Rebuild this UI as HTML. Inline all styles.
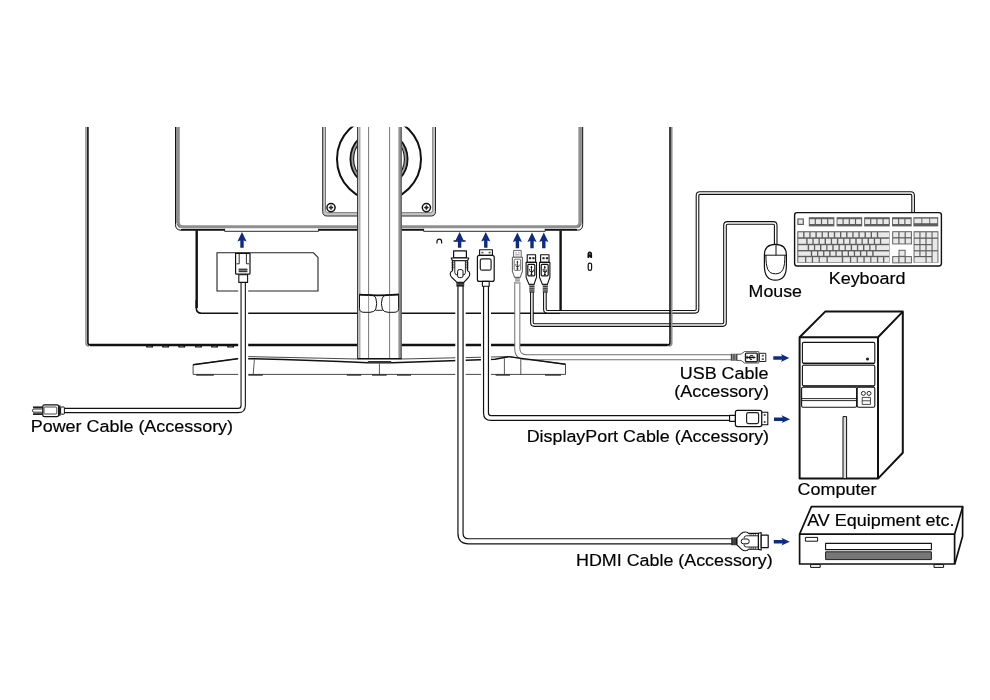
<!DOCTYPE html>
<html>
<head>
<meta charset="utf-8">
<title>Connecting your monitor</title>
<style>
html,body{margin:0;padding:0;background:#fff;}
body{width:990px;height:700px;overflow:hidden;}
svg{display:block;will-change:transform;}
text{font-family:"Liberation Sans",sans-serif;font-size:17.1px;fill:#000;stroke:#000;stroke-width:0.18px;}
.k{fill:none;stroke:#111;}
.g{fill:none;stroke:#8c8c8c;}
.w{fill:#fff;stroke:#111;}
.wg{fill:#fff;stroke:#666;}
.b{fill:#0e2b84;stroke:none;}
</style>
</head>
<body>
<svg width="990" height="700" viewBox="0 0 990 700">
<defs>
<polygon id="up" points="0,0 4.6,9.6 1.7,8.6 1.7,15.8 -1.7,15.8 -1.7,8.6 -4.6,9.6"/>
<polygon id="rt" points="0,0 -8.4,-3.9 -7.2,-1.7 -16,-1.7 -16,1.7 -7.2,1.7 -8.4,3.9"/>
<pattern id="keys" x="797.3" y="231.2" width="6.13" height="6.3" patternUnits="userSpaceOnUse">
<rect x="0" y="0" width="6.13" height="6.3" fill="#8a8a8a"/>
<rect x="1.1" y="1.1" width="4" height="4.1" fill="#fff"/>
</pattern>
</defs>
<rect x="0" y="0" width="990" height="700" fill="#fff"/>

<!-- ===== MONITOR BODY ===== -->
<g id="monitor">
<!-- outer shell -->
<path class="g" stroke-width="1.5" d="M86 127 V343 Q86 346 89 346"/>
<path class="k" stroke-width="1.6" d="M87.9 127 V342.4 Q87.9 345 90.5 345 H100"/>
<path class="k" stroke-width="2.3" d="M90 345 H667.6"/>
<!-- feet bumps under shell -->
<g fill="#111">
<rect x="146.1" y="345" width="6.9" height="2.5" rx="0.6"/><rect x="162.2" y="345" width="6.9" height="2.5" rx="0.6"/><rect x="178.3" y="345" width="6.9" height="2.5" rx="0.6"/><rect x="195" y="345" width="6.9" height="2.5" rx="0.6"/><rect x="211.1" y="345" width="6.9" height="2.5" rx="0.6"/><rect x="227.2" y="345" width="6.9" height="2.5" rx="0.6"/>
</g>
<g fill="#999"><rect x="147.5" y="346" width="4" height="0.5"/><rect x="163.6" y="346" width="4" height="0.5"/><rect x="179.70000000000002" y="346" width="4" height="0.5"/><rect x="196.4" y="346" width="4" height="0.5"/><rect x="212.5" y="346" width="4" height="0.5"/><rect x="228.6" y="346" width="4" height="0.5"/></g>
<!-- VESA plate -->
<path fill="none" stroke="#c4c4c4" stroke-width="2.6" d="M324 127 V211 Q324 214.4 327.4 214.4 H430.8 Q434.2 214.4 434.2 211 V127"/>
<path class="k" stroke-width="0.9" d="M322.7 127 V211.6 Q322.7 216 327.1 216 H431.1 Q435.5 216 435.5 211.6 V127"/>
<path fill="none" stroke="#444" stroke-width="0.7" d="M325.5 127 V210.4 Q325.5 212.6 327.7 212.6 H430.5 Q432.7 212.6 432.7 210.4 V127"/>
<!-- hub circles -->
<circle class="k" stroke-width="2" cx="379" cy="159" r="42"/>
<circle fill="none" stroke="#9a9a9a" stroke-width="2.6" cx="379" cy="159" r="27"/>
<circle class="k" stroke-width="1.8" cx="379" cy="159" r="28.6"/>
<circle class="k" stroke-width="1.1" cx="379" cy="159" r="25.4"/>
<!-- screws -->
<g class="k">
<circle cx="331" cy="207.6" r="4.1" fill="#fff" stroke-width="1.5"/><circle cx="331" cy="207.6" r="1.5" stroke-width="0.6"/>
<path stroke-width="0.9" d="M328.8 207.6 H333.2 M331 205.4 V209.8"/>
<circle cx="426.4" cy="207.6" r="4.1" fill="#fff" stroke-width="1.5"/><circle cx="426.4" cy="207.6" r="1.5" stroke-width="0.6"/>
<path stroke-width="0.9" d="M424.2 207.6 H428.6 M426.4 205.4 V209.8"/>
</g>
<!-- rear panel edge (gray inner band + dark outer line) -->
<path fill="none" stroke="#8f8f8f" stroke-width="3.2" d="M178.2 127 V222 Q178.2 226.8 183 226.8 H575.2 Q580 226.8 580 222 V127"/>
<path fill="none" stroke="#8f8f8f" stroke-width="1.4" d="M176.3 127 V223 M581.9 127 V223"/>
<path class="k" stroke-width="1" d="M175.5 127 V224.6 Q175.5 230.2 181.1 230.2 H577.1 Q582.7 230.2 582.7 224.6 V127"/>
<path fill="none" stroke="#555" stroke-width="0.7" d="M176.4 224 Q178.6 224.4 179.2 227.6 M581.8 224 Q579.6 224.4 579 227.6"/>
<path class="k" stroke-width="1.3" d="M181 229.7 H577"/>
<!-- tabs in panel edge -->
<rect x="224.6" y="228.5" width="94" height="3.5" fill="#fff"/>
<rect x="423.6" y="228.5" width="121.6" height="3.5" fill="#fff"/>
<path class="k" stroke-width="0.9" d="M224.6 228.8 V231.3 H318.6 V228.8 M423.6 228.8 V231.3 H545.2 V228.8"/>
<!-- IO housing -->
<path class="k" stroke-width="2.4" d="M196.7 230.4 V308"/>
<path class="k" stroke-width="1.6" d="M196.3 300 V308 Q196.3 313.2 201.5 313.2 H560"/>
<path class="k" stroke-width="2.4" d="M560.6 230.6 V313"/>
<!-- label recess -->
<path fill="#fff" stroke="#222" stroke-width="1.1" d="M217 252.8 H313.4 L318 257.4 V291 H217 Z"/>
<!-- small port icons -->
<path class="k" stroke-width="1.2" d="M437 243.6 V241.4 A2.3 2.3 0 0 1 441.6 241.4 V243.6"/>
<path class="k" stroke-width="1.4" d="M453.6 241 H465.6"/>
<path fill="#111" d="M587.5 258 V254.4 Q587.5 251.4 589.8 251.4 Q592.1 251.4 592.1 254.4 V258 H590.7 L589.8 256.8 L588.9 258 Z"/>
<circle cx="589.8" cy="253.9" r="0.7" fill="#bbb"/>
<rect class="k" stroke-width="1.2" x="588.2" y="263.2" width="3.4" height="7.2" rx="1.6"/>
</g>

<!-- ===== STAND ===== -->
<g id="stand">
<!-- base -->
<path fill="#fff" stroke="#333" stroke-width="0.9" d="M193.1 364.7 L237.5 358.7 L248 356.6 L357.4 359 H401.6 L508.6 356.6 L565.5 364.3 V374.4 H193.1 Z"/>
<path class="k" stroke-width="1.5" d="M193.1 364.7 L237.5 358.7 L248 358.7 Q310 360 367.8 362.8 H392 Q450 361 495 359.3 L508.6 356.7"/>
<path class="k" stroke-width="0.7" d="M254.4 359.4 L253.2 374.4 M379.4 363.6 V374.4 M504.4 358.4 V374.4 M520.8 358.4 V374.4"/>
<g fill="#333">
<rect x="196.2" y="374.2" width="17.6" height="1.5"/><rect x="248.2" y="374.2" width="14.6" height="1.5"/>
<rect x="346.8" y="374.2" width="14.4" height="1.5"/><rect x="372" y="374.2" width="14.6" height="1.5"/>
<rect x="397" y="374.2" width="14" height="1.5"/><rect x="495.6" y="374.2" width="14.4" height="1.5"/>
<rect x="545" y="374.2" width="16" height="1.5"/>
<rect x="367.8" y="361" width="23.4" height="2"/>
</g>
<!-- column -->
<rect x="357.2" y="120" width="44.6" height="238.4" fill="#fff"/>
<path fill="none" stroke="#d0d0d0" stroke-width="1.6" d="M358.8 127 V358.4"/><path fill="none" stroke="#a0a0a0" stroke-width="1.8" d="M400 127 V358.4"/>
<path class="k" stroke-width="0.9" d="M357.6 127 V358.4 M401.2 127 V358.4"/>
<path fill="none" stroke="#444" stroke-width="0.6" d="M359.9 127 V358.4 M398.9 127 V358.4"/>
<path fill="none" stroke="#555" stroke-width="0.8" d="M368.6 127 V358.4 M389.6 127 V358.4"/>
<path class="k" stroke-width="1.2" d="M357.2 358.6 H401.8"/>
<!-- cable clip -->
<path class="w" stroke-width="1" d="M359.5 294.8 V308.5 Q359.5 312.3 364 312.3 H370 Q374.5 312.3 375.8 309 Q377.6 303.4 375.8 298 Q374.8 295.6 372 295 Z"/>
<path class="w" stroke-width="1" d="M398.6 294.8 V308.5 Q398.6 312.3 394.1 312.3 H388.1 Q383.6 312.3 382.3 309 Q380.5 303.4 382.3 298 Q383.3 295.6 386.1 295 Z"/>
<path class="k" stroke-width="1.8" d="M359.2 294.6 Q379 296.2 398.9 294.4"/>
<path class="k" stroke-width="0.9" d="M375.4 310.3 H382.6"/>
<path fill="none" stroke="#777" stroke-width="0.8" d="M368.6 295.4 V312 M389.6 295.4 V312"/>
</g>
<rect x="0" y="0" width="990" height="126.6" fill="#fff"/>
<!-- ===== CABLES ===== -->
<g id="cables" fill="none" stroke-linejoin="round">
<!-- halos -->
<g stroke="#fff">
<path stroke-width="10" d="M243.2 283 V405.4 Q243.2 410.5 238.1 410.5 H70"/>
<path stroke-width="10.4" d="M460.5 284 V533.3 Q460.5 541.3 468.5 541.3 H731"/>
<path stroke-width="10" d="M486 284 V413 Q486 418 491 418 H729"/>
</g>
<!-- power -->
<path stroke="#111" stroke-width="5.4" d="M243.2 280 V405.4 Q243.2 410.5 238.1 410.5 H64"/>
<path stroke="#fff" stroke-width="3.2" d="M243.2 280 V405.4 Q243.2 410.5 238.1 410.5 H64"/>
<!-- HDMI -->
<path stroke="#111" stroke-width="6.3" d="M460.5 284 V533.3 Q460.5 541.3 468.5 541.3 H732"/>
<path stroke="#fff" stroke-width="3.9" d="M460.5 284 V533.3 Q460.5 541.3 468.5 541.3 H732"/>
<!-- DisplayPort -->
<path stroke="#111" stroke-width="6.1" d="M486 284 V413 Q486 418 491 418 H730"/>
<path stroke="#fff" stroke-width="3.7" d="M486 284 V413 Q486 418 491 418 H730"/>
<!-- USB upstream (gray) -->
<path stroke="#707070" stroke-width="6.1" d="M517.3 282 V348.2 Q517.3 357.2 526.3 357.2 H731"/>
<path stroke="#fff" stroke-width="4.1" d="M517.3 282 V348.2 Q517.3 357.2 526.3 357.2 H731"/>
<!-- mouse (USB-A 1) -->
<path stroke="#111" stroke-width="3.7" d="M531.9 290 V322.6 Q531.9 325.1 534.4 325.1 H722.5 Q725 325.1 725 322.6 V225.4 Q725 222.9 727.5 222.9 H773.2 Q775.7 222.9 775.7 225.4 V244.6"/>
<path stroke="#fff" stroke-width="1.5" d="M531.9 290 V322.6 Q531.9 325.1 534.4 325.1 H722.5 Q725 325.1 725 322.6 V225.4 Q725 222.9 727.5 222.9 H773.2 Q775.7 222.9 775.7 225.4 V244.6"/>
<!-- keyboard (USB-A 2) -->
<path stroke="#111" stroke-width="3.7" d="M544.9 290 V309.3 Q544.9 311.8 547.4 311.8 H695 Q697.5 311.8 697.5 309.3 V195.6 Q697.5 193.1 700 193.1 H910.6 Q913.1 193.1 913.1 195.6 V212.4"/>
<path stroke="#fff" stroke-width="1.5" d="M544.9 290 V309.3 Q544.9 311.8 547.4 311.8 H695 Q697.5 311.8 697.5 309.3 V195.6 Q697.5 193.1 700 193.1 H910.6 Q913.1 193.1 913.1 195.6 V212.4"/>
</g>
<path class="g" stroke-width="1.5" d="M668.8 346 Q671.8 346 671.8 343 V127"/><path class="k" stroke-width="1.6" d="M660 345 H667.4 Q670 345 670 342.4 V127"/>
<path class="k" stroke-width="1.4" d="M508.4 356.6 L565.5 364.3"/>
<!-- ===== CONNECTORS (monitor side) ===== -->
<g id="conn-top" stroke-linejoin="round">
<!-- power -->
<path class="w" stroke-width="1.2" d="M235.6 253.4 H250 V273.2 Q250 274.2 249 274.2 H236.6 Q235.6 274.2 235.6 273.2 Z"/>
<path class="k" stroke-width="0.9" d="M239.2 254 V263.8 H236.6 M246.4 254 V263.8 H249"/>
<rect x="238.6" y="268.6" width="8.8" height="3.6" fill="#333"/>
<path fill="none" stroke="#ddd" stroke-width="0.5" d="M238.6 270.4 H247.4"/>
<rect class="w" stroke-width="1.1" x="238.8" y="274.8" width="8.8" height="7.6"/>
<!-- HDMI -->
<rect class="w" stroke-width="1.2" x="453.6" y="250.8" width="12.8" height="7"/>
<path class="w" stroke-width="1.1" d="M451.2 258 H468.8 L467.6 260.8 H452.4 Z"/>
<path class="w" stroke-width="1.1" d="M452.6 260.8 H467.4 V270.4 Q469.8 271.6 469.8 274 Q469.8 276.4 468 278 L463.8 282.4 H457 L452.4 278 Q450.2 276.4 450.2 274 Q450.2 271.6 452.6 270.4 Z"/>
<path class="k" stroke-width="0.9" d="M454.8 260.8 V272.6 Q454.8 275 457.6 275 M465.4 260.8 V272.6 Q465.4 275 463 275"/>
<path class="k" stroke-width="0.8" d="M452.6 261.4 l-0.9 0.85 l0.9 0.85 l-0.9 0.85 l0.9 0.85 l-0.9 0.85 l0.9 0.85 l-0.9 0.85 l0.9 0.85 l-0.9 0.85 l0.9 0.85 M467.4 261.4 l0.9 0.85 l-0.9 0.85 l0.9 0.85 l-0.9 0.85 l0.9 0.85 l-0.9 0.85 l0.9 0.85 l-0.9 0.85 l0.9 0.85 l-0.9 0.85"/>
<path class="k" stroke-width="0.5" d="M452.8 262.6 H454.8 M452.8 264.3 H454.8 M452.8 266 H454.8 M452.8 267.7 H454.8 M465.4 262.6 H467.2 M465.4 264.3 H467.2 M465.4 266 H467.2 M465.4 267.7 H467.2"/>
<rect class="w" stroke-width="1" x="457.6" y="269.6" width="5.4" height="8" rx="1.7"/>
<rect x="456.4" y="282.2" width="7.8" height="4.4" fill="#222"/>
<path fill="none" stroke="#999" stroke-width="0.5" d="M456.4 284.2 H464.2"/>
<!-- DisplayPort -->
<rect class="w" stroke-width="1.1" x="479.6" y="249.8" width="12.8" height="5.6"/>
<rect x="481.4" y="251.8" width="2" height="1.6" fill="#555"/><rect x="488.6" y="251.8" width="2" height="1.6" fill="#555"/>
<rect class="w" stroke-width="1.2" x="477.4" y="255.4" width="16.8" height="26" rx="2"/>
<rect fill="#fff" stroke="#222" stroke-width="1.2" x="480.3" y="258.8" width="10.8" height="11.4" rx="1.8"/>
<rect class="w" stroke-width="1.1" x="482.4" y="281.4" width="6.8" height="4.8"/>
<!-- USB upstream (gray) -->
<rect class="wg" stroke-width="1" x="513.6" y="250.4" width="7.6" height="6.8"/>
<path fill="none" stroke="#777" stroke-width="0.8" d="M515.2 252.8 H516.8 M518 252.8 H519.6 M515.2 254.8 H519.6"/>
<path class="wg" stroke-width="1.1" d="M512.4 257.2 H522.4 V271.4 L520.2 277.4 H514.6 L512.4 271.4 Z"/>
<rect class="wg" stroke-width="0.9" x="514.2" y="259.2" width="6.4" height="11.2" rx="0.8"/>
<path fill="#222" d="M517.4 260.6 L518.5 262.6 H517.8 V266.4 L518.8 265.4 V264.4 H519.4 V266 L517.8 267.6 V268.2 A0.9 0.9 0 1 1 517 268.2 V267.4 L515.6 266 V264.8 A0.5 0.5 0 1 1 516.2 264.8 V265.6 L517 266.4 V262.6 H516.3 Z"/>
<rect x="515" y="278.2" width="4.8" height="5.6" fill="#888"/>
<path fill="none" stroke="#fff" stroke-width="0.6" d="M515 279.8 H519.8 M515 281.4 H519.8 M515 283 H519.8"/>
<!-- USB-A 1 and 2 -->
<g id="usbA">
<rect class="w" stroke-width="1.1" x="527.2" y="254.8" width="8.4" height="7.6"/>
<rect x="529" y="257.2" width="2.2" height="2" fill="#222"/><rect x="532.4" y="257.2" width="2.2" height="2" fill="#222"/>
<path class="w" stroke-width="1.1" d="M526.1 262.4 H536.5 V277.2 L534 284.4 H529 L526.1 277.2 Z"/>
<rect class="w" stroke-width="1.2" x="527.8" y="264.4" width="7" height="11.4" rx="1"/>
<path fill="#111" d="M531.4 265.6 L532.6 267.8 H531.9 V271.6 L533 270.6 V269.6 H533.7 V271.2 L531.9 272.9 V273.4 A1 1 0 1 1 531 273.4 V272.6 L529.4 271.2 V270 A0.6 0.6 0 1 1 530.1 270 V270.8 L531 271.6 V267.8 H530.2 Z"/>
<rect x="529.4" y="284" width="5" height="8.6" fill="#222"/>
<path fill="none" stroke="#ddd" stroke-width="0.7" d="M529.4 285.6 H534.4 M529.4 287.4 H534.4 M529.4 289.2 H534.4 M529.4 291 H534.4"/>
</g>
<use href="#usbA" x="13.4" y="0"/>
</g>

<!-- ===== PLUGS (device side) ===== -->
<g id="conn-right" stroke-linejoin="round">
<!-- USB-A -->
<rect x="730.8" y="353.8" width="6.2" height="6.9" fill="#3a3a3a"/>
<path fill="none" stroke="#ccc" stroke-width="0.6" d="M732.4 353.8 V360.7 M734 353.8 V360.7 M735.6 353.8 V360.7"/>
<path fill="#fff" stroke="#555" stroke-width="1" d="M737 354.2 H741 L744.4 351.6 H758.8 V363 H744.4 L741 360.4 H737 Z"/>
<rect fill="#fff" stroke="#222" stroke-width="1.4" x="745.5" y="353.1" width="11.8" height="8.6" rx="1"/>
<path fill="#111" stroke="#111" stroke-width="0.3" d="M755.6 357.4 L753.4 358.6 V357.9 H750 L751 358.9 H752 V359.7 H750.4 L748.8 357.9 H748.2 A1.1 1.1 0 1 1 748.2 356.9 H749 L750.4 355.3 H751.6 A0.7 0.7 0 1 1 751.6 356.1 H750.8 L750 356.9 H753.4 V356.2 Z"/>
<rect fill="#fff" stroke="#222" stroke-width="1" x="759.4" y="353.3" width="6.4" height="8.2"/>
<rect x="761.8" y="354.8" width="2" height="1.8" fill="#555"/><rect x="761.8" y="358.2" width="2" height="1.8" fill="#555"/>
<!-- DisplayPort -->
<rect class="w" stroke-width="1.1" x="729.6" y="415.4" width="5.8" height="6"/>
<rect class="w" stroke-width="1.2" x="735.4" y="410.4" width="26.4" height="16.2" rx="2"/>
<rect fill="#fff" stroke="#222" stroke-width="1.2" x="746.6" y="412.6" width="12" height="11" rx="1.8"/>
<rect class="w" stroke-width="1.1" x="761.8" y="412.2" width="6" height="12.6"/>
<rect x="763.8" y="414" width="1.8" height="2" fill="#555"/><rect x="763.8" y="421" width="1.8" height="2" fill="#555"/>
<!-- HDMI -->
<rect x="731.2" y="537.4" width="5.8" height="7.8" fill="#222"/>
<path fill="none" stroke="#999" stroke-width="0.5" d="M733.2 537.4 V545.2 M735 537.4 V545.2"/>
<path class="w" stroke-width="1.1" d="M737 537.8 L741.6 533.2 Q743.2 532 745.6 532 Q748 532 748.4 533.4 H758.4 V549.2 H748.4 Q748 550.8 745.6 550.8 Q743.2 550.8 741.6 549.4 L737 544.8 Z"/>
<path class="k" stroke-width="0.9" d="M758.4 535.8 H746.4 Q744 535.8 744 538.4 M758.4 547 H746.4 Q744 547 744 544.4"/>
<path class="k" stroke-width="0.6" d="M750 533.4 V535.8 M751.8 533.4 V535.8 M753.6 533.4 V535.8 M755.4 533.4 V535.8 M750 547 V549.2 M751.8 547 V549.2 M753.6 547 V549.2 M755.4 547 V549.2"/>
<rect class="w" stroke-width="1" x="741.2" y="539" width="8" height="4.8" rx="2.2"/>
<path class="w" stroke-width="1.1" d="M758.4 533.2 L761.2 532.6 V550 L758.4 549.4 Z"/>
<rect class="w" stroke-width="1.2" x="761.2" y="535.2" width="7" height="12.4"/>
<!-- power plug -->
<rect x="33" y="406.4" width="9.8" height="1.8" fill="#222"/>
<rect x="33" y="413.2" width="9.8" height="1.8" fill="#222"/>
<path class="w" stroke-width="0.9" d="M42.8 409 H34 Q32.4 409 32.4 410.6 Q32.4 412.2 34 412.2 H42.8"/>
<rect class="w" stroke-width="1.2" x="42.8" y="404.8" width="15.8" height="11.8" rx="1.6"/>
<rect fill="#fff" stroke="#333" stroke-width="0.9" x="44" y="407" width="12.8" height="7" rx="0.8"/>
<rect x="58.4" y="405.4" width="2.2" height="10.4" fill="#222"/>
<rect class="w" stroke-width="1" x="60.6" y="407" width="3.8" height="7.2" rx="0.8"/>
</g>


<!-- ===== ARROWS ===== -->
<g id="arrows" class="b">
<use href="#up" x="242" y="232"/>
<use href="#up" x="459.6" y="232"/>
<use href="#up" x="485.8" y="232"/>
<use href="#up" x="517.4" y="232.4"/>
<use href="#up" x="532" y="232.4"/>
<use href="#up" x="543.8" y="232.4"/>
<use href="#rt" x="789.3" y="358"/>
<use href="#rt" x="790" y="419.2"/>
<use href="#rt" x="789.8" y="541.7"/>
</g>

<!-- ===== DEVICES ===== -->
<g id="mouse" stroke-linejoin="round">
<path class="w" stroke-width="1.2" d="M764.4 255 Q764.4 244.4 775.4 244.4 Q786.4 244.4 786.4 255 V266 Q786.4 280.2 775.4 280.2 Q764.4 280.2 764.4 266 Z"/>
<path class="k" stroke-width="1" d="M764.6 255.2 H786.2 M776 244.6 V255.2"/>
<path class="k" stroke-width="1" d="M765.9 255.2 C765.9 268.4 768 273.8 775.4 273.8 C782.8 273.8 784.9 268.4 784.9 255.2"/>
</g>
<g id="keyboard">
<rect class="w" stroke-width="1.4" x="794.6" y="212.6" width="146.8" height="53.4" rx="2.4"/>
<rect x="797.3" y="218.4" width="6.6" height="6.6" fill="#5e5e5e"/>
<rect x="798.5" y="219.6" width="4.2" height="4.2" fill="#e9e9e9"/>
<rect x="808.8" y="217.2" width="25.6" height="9.2" fill="#5e5e5e"/>
<rect x="809.7" y="219.2" width="5.0" height="4.8" fill="#e9e9e9"/>
<rect x="815.9" y="219.2" width="5.0" height="4.8" fill="#e9e9e9"/>
<rect x="822.1" y="219.2" width="5.0" height="4.8" fill="#e9e9e9"/>
<rect x="828.3" y="219.2" width="5.0" height="4.8" fill="#e9e9e9"/>
<rect x="836.6" y="217.2" width="25.6" height="9.2" fill="#5e5e5e"/>
<rect x="837.5" y="219.2" width="5.0" height="4.8" fill="#e9e9e9"/>
<rect x="843.7" y="219.2" width="5.0" height="4.8" fill="#e9e9e9"/>
<rect x="849.9" y="219.2" width="5.0" height="4.8" fill="#e9e9e9"/>
<rect x="856.1" y="219.2" width="5.0" height="4.8" fill="#e9e9e9"/>
<rect x="864.2" y="217.2" width="25.6" height="9.2" fill="#5e5e5e"/>
<rect x="865.1" y="219.2" width="5.0" height="4.8" fill="#e9e9e9"/>
<rect x="871.3" y="219.2" width="5.0" height="4.8" fill="#e9e9e9"/>
<rect x="877.5" y="219.2" width="5.0" height="4.8" fill="#e9e9e9"/>
<rect x="883.7" y="219.2" width="5.0" height="4.8" fill="#e9e9e9"/>
<rect x="892.0" y="217.2" width="19.7" height="9.2" fill="#5e5e5e"/>
<rect x="892.9" y="219.2" width="5.1" height="4.8" fill="#e9e9e9"/>
<rect x="899.2" y="219.2" width="5.1" height="4.8" fill="#e9e9e9"/>
<rect x="905.5" y="219.2" width="5.1" height="4.8" fill="#e9e9e9"/>
<rect x="913.4" y="217.2" width="24.8" height="9.2" fill="#5e5e5e"/>
<rect x="914.4" y="218.6" width="7.0" height="4.6" fill="#e9e9e9"/>
<rect x="922.3" y="218.6" width="7.0" height="4.6" fill="#e9e9e9"/>
<rect x="930.2" y="218.6" width="7.0" height="4.6" fill="#e9e9e9"/>
<rect x="797.3" y="231.2" width="92.2" height="31.6" fill="#5e5e5e"/>
<rect x="798.3" y="232.3" width="4.8" height="5.0" fill="#e9e9e9"/>
<rect x="804.5" y="232.3" width="4.8" height="5.0" fill="#e9e9e9"/>
<rect x="810.6" y="232.3" width="4.8" height="5.0" fill="#e9e9e9"/>
<rect x="816.8" y="232.3" width="4.8" height="5.0" fill="#e9e9e9"/>
<rect x="822.9" y="232.3" width="4.8" height="5.0" fill="#e9e9e9"/>
<rect x="829.0" y="232.3" width="4.8" height="5.0" fill="#e9e9e9"/>
<rect x="835.2" y="232.3" width="4.8" height="5.0" fill="#e9e9e9"/>
<rect x="841.3" y="232.3" width="4.8" height="5.0" fill="#e9e9e9"/>
<rect x="847.5" y="232.3" width="4.8" height="5.0" fill="#e9e9e9"/>
<rect x="853.6" y="232.3" width="4.8" height="5.0" fill="#e9e9e9"/>
<rect x="859.7" y="232.3" width="4.8" height="5.0" fill="#e9e9e9"/>
<rect x="865.9" y="232.3" width="4.8" height="5.0" fill="#e9e9e9"/>
<rect x="872.0" y="232.3" width="4.8" height="5.0" fill="#e9e9e9"/>
<rect x="878.2" y="232.3" width="11.0" height="5.0" fill="#e9e9e9"/>
<rect x="798.3" y="238.8" width="7.9" height="5.0" fill="#e9e9e9"/>
<rect x="807.6" y="238.8" width="4.8" height="5.0" fill="#e9e9e9"/>
<rect x="813.7" y="238.8" width="4.8" height="5.0" fill="#e9e9e9"/>
<rect x="819.8" y="238.8" width="4.8" height="5.0" fill="#e9e9e9"/>
<rect x="826.0" y="238.8" width="4.8" height="5.0" fill="#e9e9e9"/>
<rect x="832.1" y="238.8" width="4.8" height="5.0" fill="#e9e9e9"/>
<rect x="838.3" y="238.8" width="4.8" height="5.0" fill="#e9e9e9"/>
<rect x="844.4" y="238.8" width="4.8" height="5.0" fill="#e9e9e9"/>
<rect x="850.5" y="238.8" width="4.8" height="5.0" fill="#e9e9e9"/>
<rect x="856.7" y="238.8" width="4.8" height="5.0" fill="#e9e9e9"/>
<rect x="862.8" y="238.8" width="4.8" height="5.0" fill="#e9e9e9"/>
<rect x="869.0" y="238.8" width="4.8" height="5.0" fill="#e9e9e9"/>
<rect x="875.1" y="238.8" width="4.8" height="5.0" fill="#e9e9e9"/>
<rect x="881.2" y="238.8" width="7.9" height="5.0" fill="#e9e9e9"/>
<rect x="798.3" y="245.2" width="9.4" height="4.8" fill="#e9e9e9"/>
<rect x="809.1" y="245.2" width="4.8" height="4.8" fill="#e9e9e9"/>
<rect x="815.2" y="245.2" width="4.8" height="4.8" fill="#e9e9e9"/>
<rect x="821.4" y="245.2" width="4.8" height="4.8" fill="#e9e9e9"/>
<rect x="827.5" y="245.2" width="4.8" height="4.8" fill="#e9e9e9"/>
<rect x="833.7" y="245.2" width="4.8" height="4.8" fill="#e9e9e9"/>
<rect x="839.8" y="245.2" width="4.8" height="4.8" fill="#e9e9e9"/>
<rect x="845.9" y="245.2" width="4.8" height="4.8" fill="#e9e9e9"/>
<rect x="852.1" y="245.2" width="4.8" height="4.8" fill="#e9e9e9"/>
<rect x="858.2" y="245.2" width="4.8" height="4.8" fill="#e9e9e9"/>
<rect x="864.4" y="245.2" width="4.8" height="4.8" fill="#e9e9e9"/>
<rect x="870.5" y="245.2" width="4.8" height="4.8" fill="#e9e9e9"/>
<rect x="876.6" y="245.2" width="12.5" height="4.8" fill="#e9e9e9"/>
<rect x="798.3" y="251.4" width="12.5" height="4.4" fill="#e9e9e9"/>
<rect x="812.2" y="251.4" width="4.8" height="4.4" fill="#e9e9e9"/>
<rect x="818.3" y="251.4" width="4.8" height="4.4" fill="#e9e9e9"/>
<rect x="824.4" y="251.4" width="4.8" height="4.4" fill="#e9e9e9"/>
<rect x="830.6" y="251.4" width="4.8" height="4.4" fill="#e9e9e9"/>
<rect x="836.7" y="251.4" width="4.8" height="4.4" fill="#e9e9e9"/>
<rect x="842.9" y="251.4" width="4.8" height="4.4" fill="#e9e9e9"/>
<rect x="849.0" y="251.4" width="4.8" height="4.4" fill="#e9e9e9"/>
<rect x="855.1" y="251.4" width="4.8" height="4.4" fill="#e9e9e9"/>
<rect x="861.3" y="251.4" width="4.8" height="4.4" fill="#e9e9e9"/>
<rect x="867.4" y="251.4" width="4.8" height="4.4" fill="#e9e9e9"/>
<rect x="873.6" y="251.4" width="15.6" height="4.4" fill="#e9e9e9"/>
<rect x="798.3" y="257.2" width="6.7" height="5.1" fill="#e9e9e9"/>
<rect x="806.3" y="257.2" width="5.5" height="5.1" fill="#e9e9e9"/>
<rect x="813.1" y="257.2" width="5.5" height="5.1" fill="#e9e9e9"/>
<rect x="819.8" y="257.2" width="6.7" height="5.1" fill="#e9e9e9"/>
<rect x="827.8" y="257.2" width="14.0" height="5.1" fill="#e9e9e9"/>
<rect x="843.2" y="257.2" width="6.7" height="5.1" fill="#e9e9e9"/>
<rect x="851.2" y="257.2" width="5.5" height="5.1" fill="#e9e9e9"/>
<rect x="857.9" y="257.2" width="5.5" height="5.1" fill="#e9e9e9"/>
<rect x="864.7" y="257.2" width="5.5" height="5.1" fill="#e9e9e9"/>
<rect x="871.4" y="257.2" width="5.5" height="5.1" fill="#e9e9e9"/>
<rect x="878.2" y="257.2" width="4.8" height="5.1" fill="#e9e9e9"/>
<rect x="884.3" y="257.2" width="4.8" height="5.1" fill="#e9e9e9"/>
<rect x="892.2" y="231.2" width="19.7" height="13.2" fill="#5e5e5e"/>
<rect x="893.2" y="232.2" width="5.1" height="5.0" fill="#e9e9e9"/>
<rect x="899.5" y="232.2" width="5.1" height="5.0" fill="#e9e9e9"/>
<rect x="905.8" y="232.2" width="5.1" height="5.0" fill="#e9e9e9"/>
<rect x="893.2" y="238.5" width="5.1" height="5.0" fill="#e9e9e9"/>
<rect x="899.5" y="238.5" width="5.1" height="5.0" fill="#e9e9e9"/>
<rect x="905.8" y="238.5" width="5.1" height="5.0" fill="#e9e9e9"/>
<rect x="898.5" y="249.8" width="7.1" height="6.9" fill="#5e5e5e"/>
<rect x="899.5" y="250.8" width="5.1" height="5.0" fill="#e9e9e9"/>
<rect x="892.2" y="256.1" width="19.7" height="7.2" fill="#5e5e5e"/>
<rect x="893.2" y="257.1" width="5.1" height="5.3" fill="#e9e9e9"/>
<rect x="899.5" y="257.1" width="5.1" height="5.3" fill="#e9e9e9"/>
<rect x="905.8" y="257.1" width="5.1" height="5.3" fill="#e9e9e9"/>
<rect x="913.6" y="231.2" width="24.8" height="31.6" fill="#5e5e5e"/>
<rect x="914.5" y="232.3" width="4.9" height="5.2" fill="#e9e9e9"/>
<rect x="920.5" y="232.3" width="4.9" height="5.2" fill="#e9e9e9"/>
<rect x="926.6" y="232.3" width="4.9" height="5.2" fill="#e9e9e9"/>
<rect x="932.6" y="232.3" width="4.9" height="5.2" fill="#e9e9e9"/>
<rect x="914.5" y="238.8" width="4.9" height="5.2" fill="#e9e9e9"/>
<rect x="920.5" y="238.8" width="4.9" height="5.2" fill="#e9e9e9"/>
<rect x="926.6" y="238.8" width="4.9" height="5.2" fill="#e9e9e9"/>
<rect x="932.6" y="238.8" width="4.9" height="11.4" fill="#e9e9e9"/>
<rect x="914.5" y="245.2" width="4.9" height="5.0" fill="#e9e9e9"/>
<rect x="920.5" y="245.2" width="4.9" height="5.0" fill="#e9e9e9"/>
<rect x="926.6" y="245.2" width="4.9" height="5.0" fill="#e9e9e9"/>
<rect x="914.5" y="251.4" width="4.9" height="4.6" fill="#e9e9e9"/>
<rect x="920.5" y="251.4" width="4.9" height="4.6" fill="#e9e9e9"/>
<rect x="926.6" y="251.4" width="4.9" height="4.6" fill="#e9e9e9"/>
<rect x="932.6" y="251.4" width="4.9" height="11.1" fill="#e9e9e9"/>
<rect x="914.5" y="257.2" width="11.0" height="5.3" fill="#e9e9e9"/>
<rect x="926.6" y="257.2" width="4.9" height="5.3" fill="#e9e9e9"/>
</g>
<g id="computer" stroke-linejoin="round">
<path class="w" stroke-width="2" d="M799.6 337.2 L825.2 311.6 H902.8 V452.8 L878 478.6 H799.6 Z"/>
<path class="k" stroke-width="2" d="M799.6 337.2 H878 V478.6 M878 337.2 L902.8 311.6"/>
<rect class="w" stroke-width="1.1" x="802.4" y="342.4" width="72.4" height="21" rx="1.4"/>
<circle cx="867.5" cy="359" r="1.6" fill="#222"/>
<path class="k" stroke-width="1.6" d="M803 363.5 H874.2 M803 385.9 H874.2"/>
<rect class="w" stroke-width="1.1" x="802.4" y="365.2" width="72.4" height="20.6" rx="1.4"/>
<rect class="w" stroke-width="1.1" x="801.6" y="387.2" width="55" height="20" rx="1.4"/>
<path class="k" stroke-width="0.9" d="M801.6 398.6 H856.6 M801.6 400.6 H856.6"/>
<rect class="w" stroke-width="1.1" x="857.2" y="387.2" width="17.6" height="20" rx="1.4"/>
<circle class="k" stroke-width="0.9" cx="863.4" cy="393.4" r="2"/><circle class="k" stroke-width="0.9" cx="869" cy="393.4" r="2"/>
<path fill="none" stroke="#333" stroke-width="0.9" d="M862.2 397.4 H870.4 V404.4 H862.2 Z M862.2 400.8 H870.4"/>
<rect fill="#ddd" stroke="#111" stroke-width="1" x="843" y="416.6" width="3.6" height="62"/>
</g>
<g id="av" stroke-linejoin="round">
<path class="w" stroke-width="1.7" d="M799.6 534.2 L811.4 506.6 H962.6 V536.2 L954.8 564 H799.6 Z"/>
<path class="k" stroke-width="1.7" d="M799.6 534.2 H954.6 V564 M954.6 534.2 L962.8 506.6"/>
<rect class="w" stroke-width="1" x="805.4" y="537.4" width="12.2" height="3.8"/>
<rect class="w" stroke-width="1.1" x="825.6" y="543.4" width="105.8" height="6.2"/>
<rect fill="#777" stroke="#222" stroke-width="1" x="825.6" y="551.8" width="105.8" height="7.8"/>
<rect class="w" stroke-width="1" x="810.6" y="564.6" width="9.6" height="2.8"/>
<rect class="w" stroke-width="1" x="934" y="564.6" width="9.6" height="2.8"/>
</g>

<!-- ===== LABELS ===== -->
<g id="labels">
<text transform="translate(30.7 431.6) scale(1.05 1)">Power Cable (Accessory)</text>
<text transform="translate(748.6 296.5) scale(1.04 1)">Mouse</text>
<text transform="translate(828.7 284.2) scale(1.05 1)">Keyboard</text>
<text transform="translate(768.5 379) scale(1.05 1)" text-anchor="end">USB Cable</text>
<text transform="translate(769 397) scale(1.05 1)" text-anchor="end">(Accessory)</text>
<text transform="translate(526.7 442.1) scale(1.046 1)">DisplayPort Cable (Accessory)</text>
<text transform="translate(797.6 495.2) scale(1.05 1)">Computer</text>
<text transform="translate(807.2 526.1) scale(1.05 1)">AV Equipment etc.</text>
<text transform="translate(576 566.3) scale(1.046 1)">HDMI Cable (Accessory)</text>
</g>

</svg>
</body>
</html>
